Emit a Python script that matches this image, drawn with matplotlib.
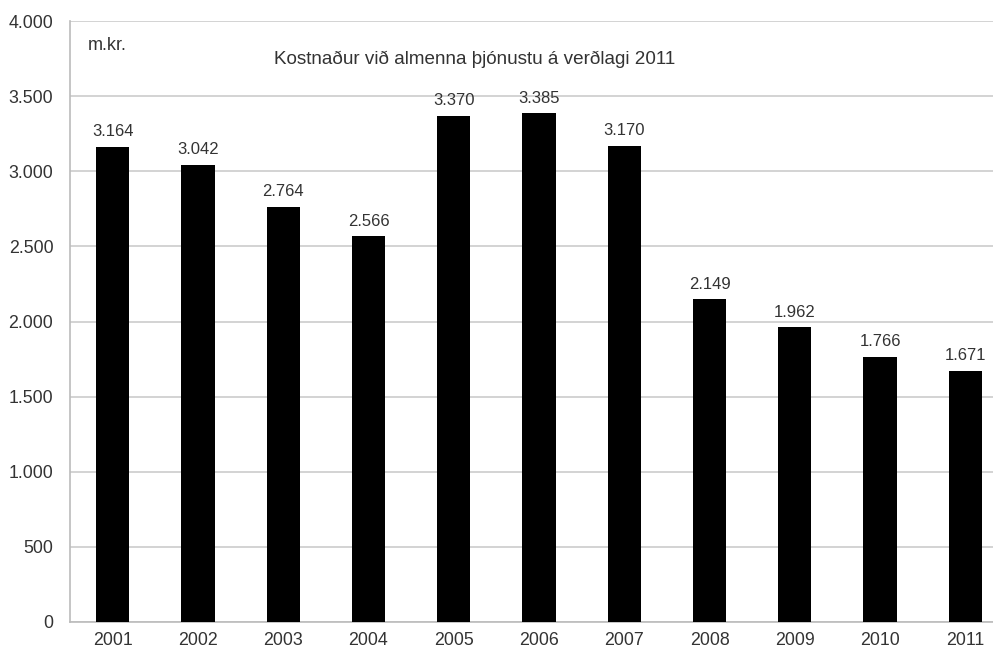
import matplotlib.pyplot as plt
from matplotlib.ticker import FuncFormatter

plt.rcParams['font.family'] = ['Liberation Sans', 'DejaVu Sans']

# Gögn
ar = ["2001", "2002", "2003", "2004", "2005", "2006", "2007", "2008", "2009", "2010", "2011"]
kostnadur = [3164, 3042, 2764, 2566, 3370, 3385, 3170, 2149, 1962, 1766, 1671]
y_ticks = [0, 500, 1000, 1500, 2000, 2500, 3000, 3500, 4000]


def islenskt(v, pos=None):
    # Punktur sem þúsundaskil
    return f"{int(v):,}".replace(",", ".")


fig = plt.figure(figsize=(9.93, 6.52), dpi=100)
# Ásinn nær út fyrir hægri brún myndarinnar eins og í frummyndinni
ax = fig.add_axes([70 / 993, 1 - 622 / 652, 938 / 993, 601 / 652])

x = list(range(len(ar)))
bars = ax.bar(x, kostnadur, width=0.39, color="black", zorder=3)
for b, v in zip(bars, kostnadur):
    ax.text(b.get_x() + b.get_width() / 2, v + 100, islenskt(v),
            ha="center", va="center", fontsize=12, color="#333333")

ax.set_xlim(-0.5, len(ar) - 0.5)
ax.set_ylim(0, 4000)
ax.set_yticks(y_ticks)
ax.yaxis.set_major_formatter(FuncFormatter(islenskt))
ax.set_xticks(x)
ax.set_xticklabels(ar)
ax.tick_params(axis="both", length=0, labelsize=12.8, colors="#333333")
ax.tick_params(axis="y", pad=12)
ax.tick_params(axis="x", pad=7)
ax.grid(axis="y", color="#cccccc", linewidth=1.2, zorder=0)

for s in ["top", "right"]:
    ax.spines[s].set_visible(False)
for s in ["left", "bottom"]:
    ax.spines[s].set_color("#bbbbbb")
    ax.spines[s].set_linewidth(1.2)

fig.text(88 / 993, 1 - 46 / 652, "m.kr.", fontsize=13, va="center", ha="left", color="#333333")
fig.text(475 / 993, 1 - 59 / 652, "Kostnaður við almenna þjónustu á verðlagi 2011",
         fontsize=13.6, va="center", ha="center", color="#333333")

fig.savefig("out.png", dpi=100)
